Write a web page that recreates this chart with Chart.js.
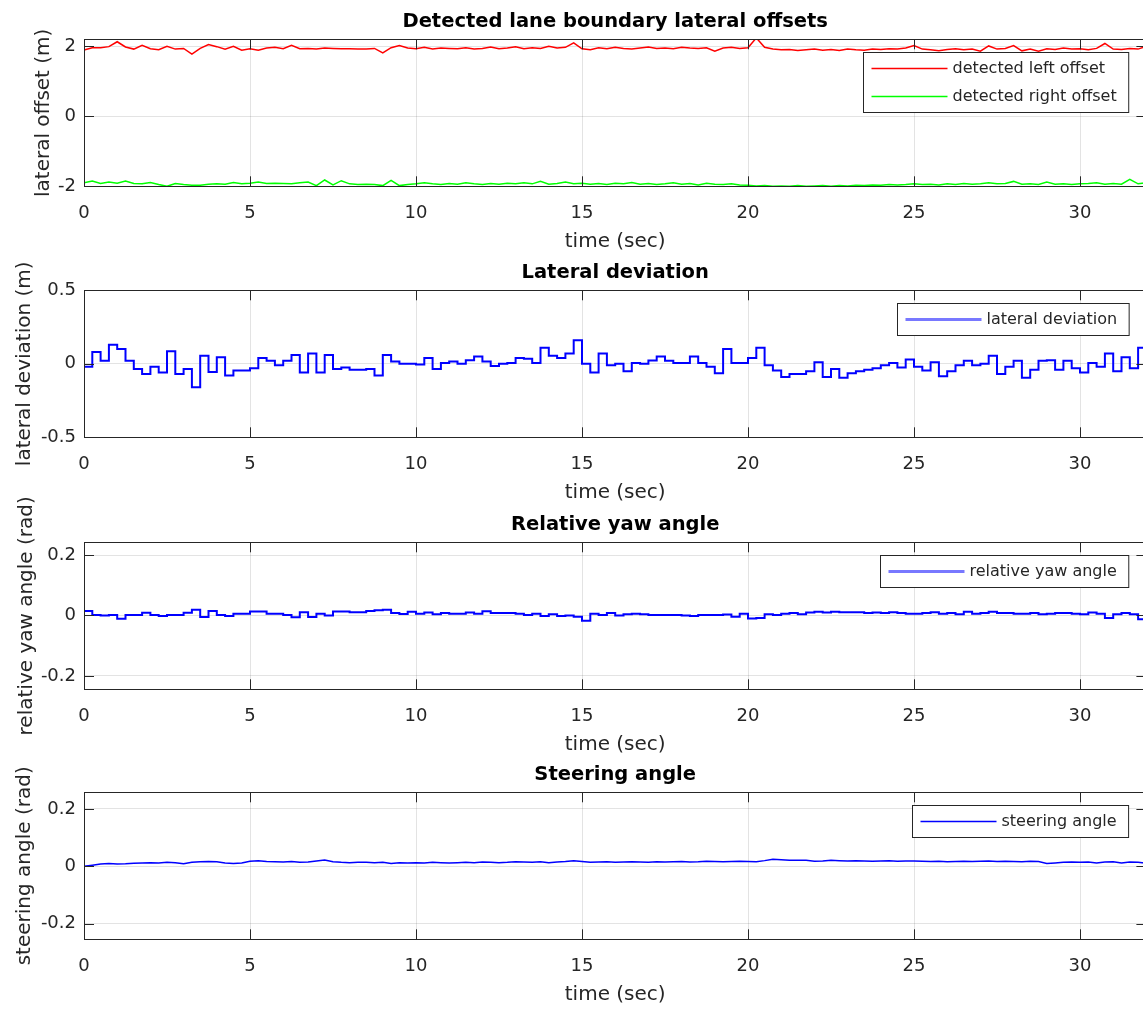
<!DOCTYPE html>
<html>
<head>
<meta charset="utf-8">
<title>Lane following results</title>
<script src="https://cdn.jsdelivr.net/npm/chart.js@4.4.1/dist/chart.umd.min.js"></script>
<style>
  html, body { margin: 0; padding: 0; background: #fff; overflow: hidden; }
  .panel { position: absolute; left: 0; width: 1160px; height: 274px; }
</style>
</head>
<body>
<div class="panel" style="top:-20px"><canvas id="offsetCanvas"></canvas></div>
<div class="panel" style="top:231px"><canvas id="deviationCanvas"></canvas></div>
<div class="panel" style="top:483px"><canvas id="yawCanvas"></canvas></div>
<div class="panel" style="top:733px"><canvas id="steeringCanvas"></canvas></div>
<script>
var sampleStep = 0.25;
var timeTicks = [0, 5, 10, 15, 20, 25, 30];
var offsetTicks = [-2, 0, 2];
var deviationTicks = [-0.5, 0, 0.5];
var yawTicks = [-0.2, 0, 0.2];
var steeringTicks = [-0.2, 0, 0.2];

var leftOffset = [
  1.89, 1.96, 1.96, 1.99, 2.13, 1.98, 1.92, 2.03, 1.93, 1.90,
  2.00, 1.92, 1.94, 1.78, 1.94, 2.05, 1.99, 1.92, 2.00, 1.89,
  1.93, 1.89, 1.95, 1.97, 1.93, 2.03, 1.93, 1.94, 1.92, 1.95,
  1.94, 1.93, 1.93, 1.92, 1.92, 1.94, 1.81, 1.96, 2.02, 1.95,
  1.93, 1.97, 1.92, 1.95, 1.94, 1.93, 1.96, 1.92, 1.94, 1.98,
  1.93, 1.95, 1.99, 1.93, 1.96, 1.94, 2.00, 1.95, 1.97, 2.10,
  1.93, 1.90, 1.96, 1.93, 1.97, 1.94, 1.92, 1.95, 1.98, 1.94,
  1.95, 1.93, 1.97, 1.95, 1.94, 1.96, 1.86, 1.95, 1.97, 1.94,
  1.96, 2.24, 1.97, 1.92, 1.90, 1.91, 1.88, 1.90, 1.92, 1.89,
  1.91, 1.88, 1.92, 1.90, 1.89, 1.92, 1.91, 1.93, 1.92, 1.95,
  2.02, 1.92, 1.90, 1.87, 1.91, 1.93, 1.90, 1.92, 1.86, 2.01,
  1.92, 1.94, 2.02, 1.87, 1.92, 1.86, 1.93, 1.91, 1.95, 1.92,
  1.93, 1.90, 1.94, 2.08, 1.92, 1.91, 1.94, 1.92, 2.00
];
var rightOffset = [
  -1.90, -1.85, -1.92, -1.88, -1.91, -1.85, -1.92, -1.93, -1.89, -1.95,
  -2.00, -1.92, -1.95, -1.97, -1.97, -1.94, -1.93, -1.94, -1.89, -1.93,
  -1.91, -1.88, -1.92, -1.91, -1.92, -1.93, -1.90, -1.88, -1.98, -1.82,
  -1.96, -1.84, -1.93, -1.95, -1.94, -1.95, -1.98, -1.83, -1.98, -1.95,
  -1.93, -1.90, -1.93, -1.95, -1.92, -1.94, -1.90, -1.93, -1.95, -1.92,
  -1.94, -1.91, -1.93, -1.90, -1.93, -1.86, -1.94, -1.92, -1.88, -1.93,
  -1.91, -1.94, -1.92, -1.95, -1.91, -1.93, -1.89, -1.94, -1.92, -1.95,
  -1.93, -1.90, -1.94, -1.92, -1.96, -1.91, -1.94, -1.95, -1.93, -1.96,
  -1.97, -1.99, -1.98, -2.00, -1.99, -2.00, -1.98, -2.00, -1.99, -1.98,
  -2.00, -1.98, -1.99, -1.97, -1.98, -1.96, -1.97, -1.95, -1.96, -1.95,
  -1.93, -1.95, -1.94, -1.96, -1.93, -1.95, -1.92, -1.94, -1.93, -1.90,
  -1.93, -1.92, -1.86, -1.94, -1.93, -1.95, -1.88, -1.94, -1.93, -1.95,
  -1.93, -1.92, -1.90, -1.94, -1.92, -1.94, -1.80, -1.93, -1.90
];
var lateralDeviation = [
  -0.02, 0.08, 0.02, 0.13, 0.10, 0.02, -0.035, -0.07, -0.02, -0.06,
  0.085, -0.07, -0.035, -0.16, 0.055, -0.055, 0.045, -0.08, -0.045, -0.045,
  -0.03, 0.04, 0.02, -0.01, 0.02, 0.06, -0.06, 0.07, -0.06, 0.06,
  -0.035, -0.025, -0.04, -0.04, -0.035, -0.08, 0.06, 0.015, 0.0, 0.0,
  -0.005, 0.04, -0.035, 0.005, 0.015, 0.0, 0.025, 0.05, 0.015, -0.015,
  0.0, 0.005, 0.04, 0.035, 0.005, 0.11, 0.055, 0.04, 0.07, 0.16,
  0.0, -0.06, 0.07, -0.01, 0.0, -0.05, 0.005, 0.0, 0.022, 0.05,
  0.02, 0.005, 0.005, 0.05, 0.005, -0.02, -0.065, 0.10, 0.005, 0.005,
  0.04, 0.11, -0.01, -0.045, -0.09, -0.07, -0.07, -0.05, 0.01, -0.09,
  -0.035, -0.095, -0.065, -0.05, -0.04, -0.03, -0.01, 0.005, -0.025, 0.03,
  -0.02, -0.045, 0.01, -0.085, -0.05, -0.01, 0.02, -0.01, 0.0, 0.055,
  -0.07, -0.02, 0.02, -0.095, -0.04, 0.02, 0.025, -0.04, 0.02, -0.03,
  -0.06, 0.005, -0.02, 0.07, -0.05, 0.045, -0.03, 0.11, 0.11
];
var relativeYaw = [
  0.015, 0.002, 0.0, 0.002, -0.011, 0.002, 0.002, 0.009, 0.002, -0.002,
  0.002, 0.002, 0.009, 0.019, -0.005, 0.015, 0.002, -0.002, 0.006, 0.006,
  0.013, 0.013, 0.006, 0.006, 0.002, -0.006, 0.011, -0.005, 0.006, 0.0,
  0.013, 0.013, 0.011, 0.011, 0.015, 0.017, 0.019, 0.008, 0.005, 0.012,
  0.006, 0.010, 0.004, 0.008, 0.006, 0.006, 0.010, 0.006, 0.014, 0.008,
  0.008, 0.008, 0.006, 0.002, 0.006, -0.002, 0.004, -0.002, 0.0, -0.004,
  -0.017, 0.006, 0.002, 0.008, 0.0, 0.004, 0.006, 0.004, 0.002, 0.002,
  0.002, 0.002, 0.0, -0.002, 0.002, 0.002, 0.002, 0.003, -0.004, 0.006,
  -0.010, -0.008, 0.004, 0.002, 0.006, 0.008, 0.004, 0.010, 0.012, 0.010,
  0.012, 0.011, 0.011, 0.011, 0.008, 0.010, 0.008, 0.011, 0.008, 0.006,
  0.006, 0.008, 0.011, 0.006, 0.008, 0.004, 0.012, 0.006, 0.008, 0.012,
  0.008, 0.008, 0.006, 0.006, 0.008, 0.004, 0.006, 0.008, 0.008, 0.006,
  0.004, 0.010, 0.006, -0.008, 0.004, 0.008, 0.004, -0.012, -0.012
];
var steeringAngle = [
  0.000, 0.004, 0.008, 0.010, 0.008, 0.009, 0.011, 0.012, 0.013, 0.012,
  0.014, 0.013, 0.009, 0.014, 0.016, 0.017, 0.016, 0.012, 0.010, 0.012,
  0.018, 0.020, 0.017, 0.016, 0.015, 0.017, 0.014, 0.015, 0.019, 0.022,
  0.016, 0.014, 0.013, 0.014, 0.014, 0.013, 0.014, 0.010, 0.013, 0.012,
  0.013, 0.012, 0.014, 0.013, 0.012, 0.013, 0.014, 0.013, 0.015, 0.014,
  0.013, 0.014, 0.016, 0.015, 0.014, 0.016, 0.013, 0.015, 0.017, 0.020,
  0.017, 0.014, 0.015, 0.016, 0.014, 0.015, 0.016, 0.015, 0.014, 0.016,
  0.015, 0.016, 0.017, 0.015, 0.016, 0.018, 0.017, 0.016, 0.017, 0.018,
  0.017, 0.016, 0.020, 0.025, 0.023, 0.021, 0.021, 0.021, 0.018, 0.019,
  0.021, 0.020, 0.019, 0.020, 0.019, 0.018, 0.019, 0.020, 0.018, 0.019,
  0.019, 0.018, 0.017, 0.018, 0.016, 0.017, 0.018, 0.017, 0.018, 0.019,
  0.017, 0.018, 0.017, 0.016, 0.018, 0.017, 0.010, 0.012, 0.014, 0.015,
  0.014, 0.015, 0.012, 0.015, 0.016, 0.012, 0.015, 0.014, 0.011
];

Chart.defaults.font.family = '"DejaVu Sans", sans-serif';
var axisColor = '#262626';
var gridColor = 'rgba(38,38,38,0.13)';

function toPoints(values){
  var pts = [];
  for (var i = 0; i < values.length; i++) {
    pts.push({x: i * sampleStep, y: values[i]});
  }
  return pts;
}

function tickList(values){
  return values.map(function(v){ return {value: v}; });
}

// matlab style box, inward ticks and legend inside the axes
var axesBox = {
  id: 'axesBox',
  afterDatasetsDraw: function(chart){
    var a = chart.chartArea, ctx = chart.ctx;
    var xs = chart.scales.x, ys = chart.scales.y;
    ctx.save();
    ctx.strokeStyle = axisColor;
    ctx.lineWidth = 1;
    ctx.beginPath();
    xs.ticks.forEach(function(t){
      var px = Math.round(xs.getPixelForValue(t.value)) + 0.5;
      ctx.moveTo(px, a.bottom); ctx.lineTo(px, a.bottom - 10);
      ctx.moveTo(px, a.top); ctx.lineTo(px, a.top + 10);
    });
    ys.ticks.forEach(function(t){
      var py = Math.round(ys.getPixelForValue(t.value)) + 0.5;
      ctx.moveTo(a.left, py); ctx.lineTo(a.left + 10, py);
      ctx.moveTo(a.right, py); ctx.lineTo(a.right - 10, py);
    });
    ctx.stroke();
    ctx.strokeRect(Math.round(a.left) + 0.5, Math.round(a.top) + 0.5, Math.round(a.width), Math.round(a.height));
    ctx.restore();
  },
  afterDraw: function(chart, args, opts){
    var items = opts.items || [];
    if (!items.length) return;
    var a = chart.chartArea, ctx = chart.ctx;
    ctx.save();
    ctx.font = '16px "DejaVu Sans", sans-serif';
    var maxW = 0;
    items.forEach(function(it){ maxW = Math.max(maxW, ctx.measureText(it.text).width); });
    var w = 89 + maxW + 12;
    var h = 32 + 28 * (items.length - 1);
    var left = Math.round(a.right - 18 - w) + 0.5;
    var top = Math.round(a.top + 13) + 0.5;
    ctx.fillStyle = '#fff';
    ctx.fillRect(left, top, w, h);
    ctx.strokeStyle = axisColor;
    ctx.lineWidth = 1;
    ctx.strokeRect(left, top, w, h);
    items.forEach(function(it, i){
      var cy = top + 16 + 28 * i;
      ctx.strokeStyle = it.color;
      ctx.lineWidth = it.width;
      ctx.beginPath();
      ctx.moveTo(left + 8, cy);
      ctx.lineTo(left + 84, cy);
      ctx.stroke();
      ctx.fillStyle = axisColor;
      ctx.textBaseline = 'middle';
      ctx.fillText(it.text, left + 89, cy);
    });
    ctx.restore();
  }
};

function makePanel(canvasId, title, yLabel, yLabelGap, yMin, yMax, yTicks, datasets, legendItems){
  return new Chart(document.getElementById(canvasId), {
    type: 'line',
    data: { datasets: datasets },
    plugins: [axesBox],
    options: {
      responsive: true,
      maintainAspectRatio: false,
      animation: false,
      layout: { padding: { left: 0, right: 13.6, top: 20, bottom: 0 } },
      elements: { point: { radius: 0 }, line: { tension: 0 } },
      plugins: {
        legend: { display: false },
        tooltip: { enabled: false },
        title: {
          display: true,
          text: title,
          fullSize: false,
          color: '#000',
          font: { size: 19.5, weight: 'bold' },
          padding: { top: 10, bottom: 5.9 }
        },
        axesBox: { items: legendItems }
      },
      scales: {
        x: {
          type: 'linear',
          min: 0,
          max: 32,
          afterBuildTicks: function(s){ s.ticks = tickList(timeTicks); },
          afterFit: function(s){ s.height = 67.7; },
          grid: { color: gridColor, drawTicks: false },
          border: { display: false },
          ticks: {
            color: axisColor, font: { size: 18 }, padding: 16,
            maxRotation: 0, autoSkip: false,
            callback: function(v){ return String(v); }
          },
          title: { display: true, text: 'time (sec)', color: axisColor, font: { size: 20 }, padding: { top: 0, bottom: 0 } }
        },
        y: {
          min: yMin,
          max: yMax,
          afterBuildTicks: function(s){ s.ticks = tickList(yTicks); },
          afterFit: function(s){ s.width = 84; },
          grid: { color: gridColor, drawTicks: false },
          border: { display: false },
          ticks: {
            color: axisColor, font: { size: 18 }, padding: 8,
            autoSkip: false,
            callback: function(v){ return String(v); }
          },
          title: { display: true, text: yLabel, color: axisColor, font: { size: 20 }, padding: { top: yLabelGap, bottom: 0 } }
        }
      }
    }
  });
}

makePanel('offsetCanvas', 'Detected lane boundary lateral offsets', 'lateral offset (m)', 32, -2, 2.2, offsetTicks, [
  { data: toPoints(leftOffset), borderColor: '#ff0000', borderWidth: 1.5 },
  { data: toPoints(rightOffset), borderColor: '#00ff00', borderWidth: 1.5 }
], [
  { text: 'detected left offset', color: '#ff0000', width: 1.5 },
  { text: 'detected right offset', color: '#00ff00', width: 1.5 }
]);

makePanel('deviationCanvas', 'Lateral deviation', 'lateral deviation (m)', 13, -0.5, 0.5, deviationTicks, [
  { data: toPoints(lateralDeviation), borderColor: '#0000ff', borderWidth: 2, stepped: true }
], [
  { text: 'lateral deviation', color: '#7878ff', width: 3 }
]);

makePanel('yawCanvas', 'Relative yaw angle', 'relative yaw angle (rad)', 15, -0.244, 0.242, yawTicks, [
  { data: toPoints(relativeYaw), borderColor: '#0000ff', borderWidth: 2, stepped: true }
], [
  { text: 'relative yaw angle', color: '#7878ff', width: 3 }
]);

makePanel('steeringCanvas', 'Steering angle', 'steering angle (rad)', 13, -0.254, 0.258, steeringTicks, [
  { data: toPoints(steeringAngle), borderColor: '#0000ff', borderWidth: 1.5 }
], [
  { text: 'steering angle', color: '#0000ff', width: 1.5 }
]);
</script>
</body>
</html>
